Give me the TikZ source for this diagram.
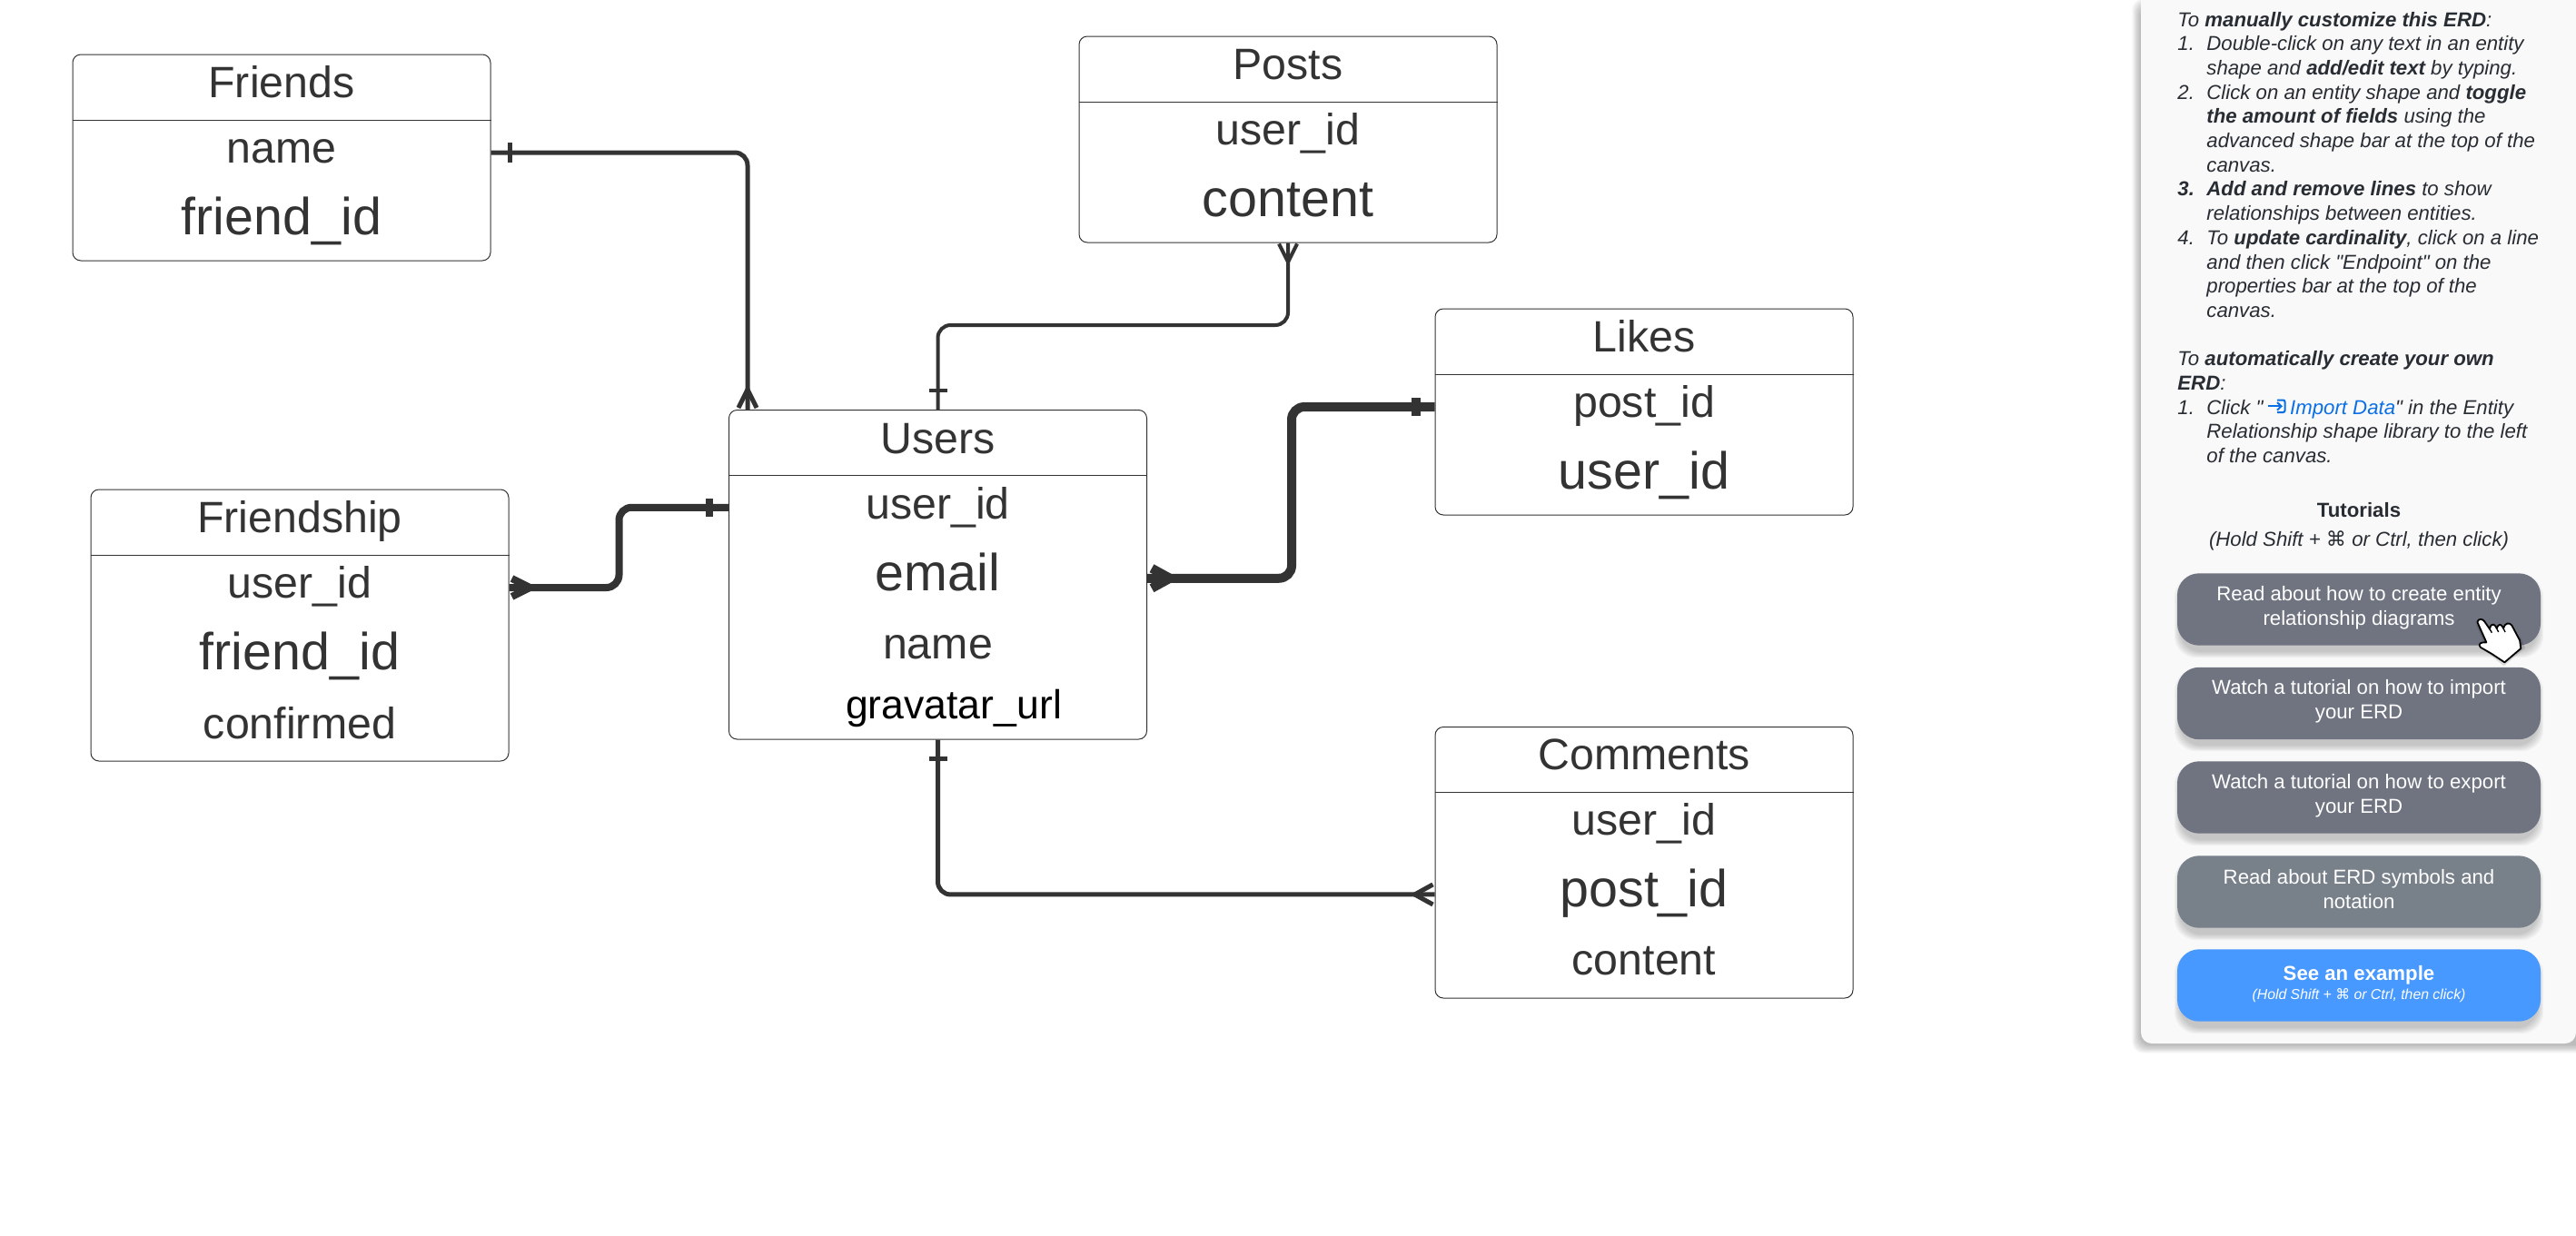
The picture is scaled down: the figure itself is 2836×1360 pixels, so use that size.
\documentclass[tikz,border=0pt]{standalone}
\usepackage{fontspec}
\setmainfont{Liberation Sans}
\newfontfamily\symfont{DejaVu Sans}
\definecolor{ink}{HTML}{333333}
\definecolor{ptxt}{HTML}{282C33}
\definecolor{panelbg}{HTML}{F9F9F9}
\definecolor{btn}{HTML}{6F7480}
\definecolor{btnb}{HTML}{78808A}
\definecolor{btnc}{HTML}{4798FF}
\definecolor{linkc}{HTML}{0B6FE6}
\newcounter{plc}
\newcommand{\pl}[3]{\stepcounter{plc}\pgfmathsetmacro{\plY}{29+(#2-1)*26.7}\node[ptext] (pl\theplc) at (#1,\plY) {#3};}
\newcommand{\softshadow}[6]{% x1 y1 x2 y2 radius(pt) steps
  \foreach \i in {1,...,#6}{\fill[black,opacity=.035,rounded corners=#5]
    ({#1-\i*1.2},{#2-\i*1.2}) rectangle ({#3+\i*1.2},{#4+\i*1.2});}}
\newcommand{\cm}{{\symfont ⌘}}
\tikzset{
  x=.5pt,y=-.5pt,
  entity/.style={draw=ink,line width=.5pt,rounded corners=4.5pt,minimum width=230pt,inner sep=0pt,fill=white},
  hdr/.style={anchor=base,inner sep=0pt,text=ink,font=\fontsize{24.15}{28}\selectfont},
  big/.style={anchor=base,inner sep=0pt,text=ink,font=\fontsize{28.7}{32}\selectfont},
  divider/.style={draw=ink,line width=.5pt},
  conn/.style={draw=ink,rounded corners=7pt},
  mk/.style={draw=ink,line cap=butt},
  ptext/.style={anchor=base west,inner sep=0pt,text=ptxt,font=\fontsize{11.1}{13.35}\selectfont\itshape},
  pc/.style={anchor=base,inner sep=0pt,text=ptxt,font=\fontsize{11.1}{13.35}\selectfont},
  button/.style={rounded corners=12pt,minimum width=200pt,minimum height=39.7pt,inner sep=0pt,fill=btn},
  btext/.style={inner sep=0pt,text=white,align=center,font=\fontsize{11.1}{13.35}\selectfont},
}
\begin{document}
\begin{tikzpicture}
\useasboundingbox (0,0) rectangle (2836,1360);
\fill[white] (0,0) rectangle (2836,1360);

% entities
\node[entity,minimum height=113.5pt] (friends) at (310,173.5) {};
\draw[divider] (friends.west |- 0,132) -- (friends.east |- 0,132);
\node[hdr] (friendsT) at (310,107) {Friends};
\node[hdr] (friendsA) at (310,179) {name};
\node[big] (friendsB) at (310,258) {friend\_id};

\node[entity,minimum height=113.5pt] (posts) at (1418,153.5) {};
\draw[divider] (posts.west |- 0,112) -- (posts.east |- 0,112);
\node[hdr] (postsT) at (1418,87) {Posts};
\node[hdr] (postsA) at (1418,159) {user\_id};
\node[big] (postsB) at (1418,238) {content};

\node[entity,minimum height=181.25pt] (users) at (1032.5,632.75) {};
\draw[divider] (users.west |- 0,523) -- (users.east |- 0,523);
\node[hdr] (usersT) at (1032.5,499) {Users};
\node[hdr] (usersA) at (1032.5,571) {user\_id};
\node[big] (usersB) at (1032.5,650) {email};
\node[hdr] (usersC) at (1032.5,725) {name};
\node[anchor=base,inner sep=0pt,text=black,font=\fontsize{22.3}{26}\selectfont] (usersD) at (1050,791) {gravatar\_url};

\node[entity,minimum height=149.5pt] (friendship) at (330,688.5) {};
\draw[divider] (friendship.west |- 0,611) -- (friendship.east |- 0,611);
\node[hdr] (fsT) at (330,586) {Friendship};
\node[hdr] (fsA) at (330,658) {user\_id};
\node[big] (fsB) at (330,737) {friend\_id};
\node[hdr] (fsC) at (330,813) {confirmed};

\node[entity,minimum height=113.5pt] (likes) at (1810,453.5) {};
\draw[divider] (likes.west |- 0,412) -- (likes.east |- 0,412);
\node[hdr] (likesT) at (1810,387) {Likes};
\node[hdr] (likesA) at (1810,459) {post\_id};
\node[big] (likesB) at (1810,538) {user\_id};

\node[entity,minimum height=149.25pt] (comments) at (1810,949.75) {};
\draw[divider] (comments.west |- 0,872) -- (comments.east |- 0,872);
\node[hdr] (commentsT) at (1810,847) {Comments};
\node[hdr] (commentsA) at (1810,919) {user\_id};
\node[big] (commentsB) at (1810,998) {post\_id};
\node[hdr] (commentsC) at (1810,1073) {content};

% ports
\coordinate (pFr) at ([yshift=2.75pt]friends.east);
\coordinate (pUt) at ([xshift=10.5pt]users.north west);
\coordinate (pFs) at ([yshift=20.75pt]friendship.east);
\coordinate (pUl) at ([yshift=37pt]users.west);
\coordinate (pUr) at ([yshift=-2pt]users.east);
\coordinate (pLk) at ([yshift=2.75pt]likes.west);
\coordinate (pCm) at ([yshift=-17.6pt]comments.west);

% connectors
\draw[conn,line width=2.5pt] (pFr) -| (pUt);
\draw[mk,line width=2.5pt] (pFr) ++(21,-11) -- ++(0,22);
\draw[mk,line width=2.5pt] (pUt) ++(-10,-2) -- ++(10,-20) -- ++(10,20);

\draw[conn,line width=2pt] (users.north) -- ++(0,-93) -| (posts.south);
\draw[mk,line width=2pt] (users.north) ++(-10,-21) -- ++(20,0);
\draw[mk,line width=2pt] (posts.south) ++(-10,1) -- ++(10,20) -- ++(10,-20);

\draw[conn,line width=4pt] (pFs) -- ++(121,0) |- (pUl);
\draw[mk,line width=4pt] (pUl) ++(-21,-10) -- ++(0,20);
\draw[mk,line width=4pt] (pFs) ++(3,-10) -- ++(20,10) -- ++(-20,10);

\draw[conn,line width=5pt] (pUr) -- ++(159,0) |- (pLk);
\draw[mk,line width=5pt] (pLk) ++(-21,-10) -- ++(0,20);
\draw[mk,line width=5pt] (pUr) ++(5,-11) -- ++(20,11) -- ++(-20,11);

\draw[conn,line width=2.5pt] (users.south) |- (pCm);
\draw[mk,line width=2.5pt] (users.south) ++(-10,21) -- ++(20,0);
\draw[mk,line width=2.5pt] (pCm) ++(-2,-11) -- ++(-20,11) -- ++(20,11);

% panel
\softshadow{2357}{8}{2900}{1150}{6pt}{8}
\fill[panelbg,rounded corners=6pt] (2357,-30) rectangle (2836,1149);
\fill[panelbg] (2357,-30) rectangle (2836,10);

\pl{2397}{1}{To \textbf{manually customize this ERD}:}
\pl{2397}{2}{1.}\pl{2429}{2}{Double-click on any text in an entity}
\pl{2429}{3}{shape and \textbf{add/edit text} by typing.}
\pl{2397}{4}{2.}\pl{2429}{4}{Click on an entity shape and \textbf{toggle}}
\pl{2429}{5}{\textbf{the amount of fields} using the}
\pl{2429}{6}{advanced shape bar at the top of the}
\pl{2429}{7}{canvas.}
\pl{2397}{8}{\textbf{3.}}\pl{2429}{8}{\textbf{Add and remove lines} to show}
\pl{2429}{9}{relationships between entities.}
\pl{2397}{10}{4.}\pl{2429}{10}{To \textbf{update cardinality}, click on a line}
\pl{2429}{11}{and then click \textquotedbl Endpoint\textquotedbl{} on the}
\pl{2429}{12}{properties bar at the top of the}
\pl{2429}{13}{canvas.}
\pl{2397}{15}{To \textbf{automatically create your own}}
\pl{2397}{16}{\textbf{ERD}:}
\pl{2397}{17}{1.}\pl{2429}{17}{Click \textquotedbl\hspace{14.8pt}{\color{linkc}Import Data}\textquotedbl{} in the Entity}
\pl{2429}{18}{Relationship shape library to the left}
\pl{2429}{19}{of the canvas.}
% import icon
\draw[linkc,line width=1pt,rounded corners=1pt] (2507,440.5) -- (2515.5,440.5) -- (2515.5,454) -- (2507,454);
\draw[linkc,line width=1pt] (2497,447.3) -- (2511,447.3);
\draw[linkc,line width=1pt] (2507,443) -- (2511.5,447.3) -- (2507,451.6);

\node[pc,font=\fontsize{11.1}{13.35}\selectfont\bfseries] (tut) at (2597,569) {Tutorials};
\node[pc,font=\fontsize{11.1}{13.35}\selectfont\itshape] (tutsub) at (2597,601) {(Hold Shift + \cm{} or Ctrl, then click)};

% buttons
\softshadow{2401}{641}{2793}{717}{12pt}{6}
\node[button] (b1) at (2597,671) {};
\node[btext] (b1t) at (2597,669.5) {Read about how to create entity\\relationship diagrams};
\softshadow{2401}{744}{2793}{820}{12pt}{6}
\node[button] (b2) at (2597,774.5) {};
\node[btext] (b2t) at (2597,772) {Watch a tutorial on how to import\\your ERD};
\softshadow{2401}{848}{2793}{924}{12pt}{6}
\node[button] (b3) at (2597,878) {};
\node[btext] (b3t) at (2597,876) {Watch a tutorial on how to export\\your ERD};
\softshadow{2401}{952}{2793}{1028}{12pt}{6}
\node[button,fill=btnb] (b4) at (2597,982) {};
\node[btext] (b4t) at (2597,979) {Read about ERD symbols and\\notation};
\softshadow{2401}{1055}{2793}{1131}{12pt}{6}
\node[button,fill=btnc] (b5) at (2597,1085) {};
\node[btext,font=\fontsize{11.1}{13.35}\selectfont\bfseries] (b5t) at (2597,1074) {See an example};
\node[btext,font=\fontsize{7.9}{9.5}\selectfont\itshape] (b5s) at (2597,1096) {(Hold Shift + \cm{} or Ctrl, then click)};

% hand cursor
\begin{scope}[shift={(2700,670)},x=.16667pt,y=-.16667pt]
\fill[black,opacity=.12] (78,52) -- (105,120) -- (95,130) -- (170,190) -- (240,130) -- (225,95) -- cycle;
\draw[black,fill=white,line width=.9pt,line join=round]
  (82,45) .. controls (85,33) and (98,33) .. (105,42)
  -- (123,68) -- (125,60) .. controls (128,52) and (138,50) .. (143,60)
  -- (146,66) .. controls (150,52) and (160,50) .. (165,60)
  -- (168,66) .. controls (172,48) and (188,44) .. (196,56)
  -- (222,105) -- (226,132) -- (172,178) -- (130,150) -- (92,128)
  .. controls (84,118) and (92,110) .. (112,112) -- cycle;
\draw[black,line width=.7pt] (123,68) -- (130,80);
\draw[black,line width=.7pt] (146,66) -- (152,78);
\draw[black,line width=.7pt] (168,66) -- (174,78);
\end{scope}
\end{tikzpicture}
\end{document}
